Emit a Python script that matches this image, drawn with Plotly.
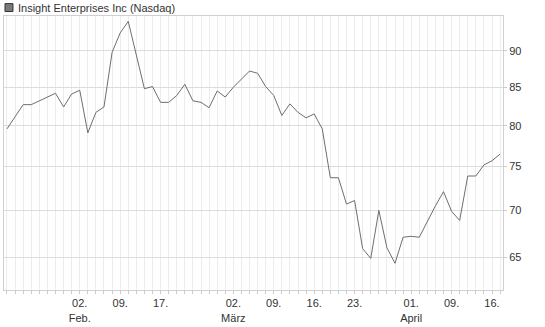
import plotly.graph_objects as go

# Trading days (Jan 20 - Apr 17, 2026)
dates = [
    "2026-01-20", "2026-01-21", "2026-01-22", "2026-01-23",
    "2026-01-26", "2026-01-27", "2026-01-28", "2026-01-29", "2026-01-30",
    "2026-02-02", "2026-02-03", "2026-02-04", "2026-02-05", "2026-02-06",
    "2026-02-09", "2026-02-10", "2026-02-11", "2026-02-12", "2026-02-13",
    "2026-02-17", "2026-02-18", "2026-02-19", "2026-02-20",
    "2026-02-23", "2026-02-24", "2026-02-25", "2026-02-26", "2026-02-27",
    "2026-03-02", "2026-03-03", "2026-03-04", "2026-03-05", "2026-03-06",
    "2026-03-09", "2026-03-10", "2026-03-11", "2026-03-12", "2026-03-13",
    "2026-03-16", "2026-03-17", "2026-03-18", "2026-03-19", "2026-03-20",
    "2026-03-23", "2026-03-24", "2026-03-25", "2026-03-26", "2026-03-27",
    "2026-03-30", "2026-03-31", "2026-04-01", "2026-04-02",
    "2026-04-06", "2026-04-07", "2026-04-08", "2026-04-09", "2026-04-10",
    "2026-04-13", "2026-04-14", "2026-04-15", "2026-04-16", "2026-04-17",
]

prices = [
    79.6, 81.1, 82.7, 82.7, 83.2, 83.7, 84.2, 82.4, 84.1, 84.6,
    79.1, 81.7, 82.4, 89.8, 92.6, 94.3, 89.5, 84.8, 85.1, 83.0,
    83.0, 83.9, 85.4, 83.2, 83.0, 82.3, 84.5, 83.7, 85.0, 86.1,
    87.2, 86.9, 85.1, 83.9, 81.3, 82.8, 81.7, 81.0, 81.5, 79.6,
    73.7, 73.7, 70.7, 71.1, 65.9, 64.9, 70.0, 66.0, 64.4, 67.1,
    67.2, 67.1, 68.8, 70.5, 72.1, 69.9, 68.9, 73.9, 73.9, 75.2,
    75.7, 76.5,
]

tick_dates = ["2026-02-02", "2026-02-09", "2026-02-17", "2026-03-02", "2026-03-09",
              "2026-03-16", "2026-03-23", "2026-04-01", "2026-04-09", "2026-04-16"]
tick_labels = ["02.<br>Feb.", "09.", "17.", "02.<br>März", "09.",
               "16.", "23.", "01.<br>April", "09.", "16."]

y_ticks = [65, 70, 75, 80, 85, 90]

series_name = "Insight Enterprises Inc (Nasdaq)"

x = list(range(len(dates)))
tickvals = [dates.index(d) for d in tick_dates]

fig = go.Figure()
fig.add_trace(go.Scatter(
    x=x, y=prices, mode="lines",
    line=dict(color="#6e6e6e", width=1),
    name=series_name, showlegend=False, hoverinfo="skip",
))

font = dict(family="Liberation Sans, Arial, sans-serif", size=11, color="#333333")

fig.update_layout(
    width=545, height=327,
    margin=dict(l=3, r=42, t=16, b=34),
    paper_bgcolor="white", plot_bgcolor="white",
    font=font,
    xaxis=dict(
        range=[-0.37, 61.36],
        tickmode="array", tickvals=tickvals, ticktext=tick_labels,
        showgrid=True, gridcolor="#ececec", gridwidth=1,
        ticks="outside", ticklen=3, tickcolor="#cccccc",
        minor=dict(dtick=1, tick0=0, showgrid=True, gridcolor="#ececec",
                   ticks="outside", ticklen=3, tickcolor="#cccccc"),
        showline=True, linecolor="#d0d0d0", linewidth=1, mirror=True,
        zeroline=False, tickfont=font,
    ),
    yaxis=dict(
        type="log",
        range=[1.7906, 1.9782],
        side="right",
        tickmode="array", tickvals=y_ticks, ticktext=[str(v) for v in y_ticks],
        showgrid=True, gridcolor="#dcdcdc", gridwidth=1,
        ticks="outside", ticklen=3, tickcolor="#cccccc",
        showline=True, linecolor="#d0d0d0", linewidth=1, mirror=True,
        zeroline=False, tickfont=font,
    ),
    shapes=[dict(type="rect", xref="paper", yref="paper",
                 x0=0, x1=0, y0=0, y1=0, line=dict(width=0))],
)

# legend-like header: square + text
fig.add_shape(type="rect", xref="paper", yref="paper",
              x0=(4 - 3) / 500, x1=(12 - 3) / 500,
              y0=1 + (293 - 16.5 - 0) / 276.5 * 0 + 4.5 / 276.5,
              y1=1 + 12.5 / 276.5,
              fillcolor="#7a7a7a", line=dict(color="#333333", width=1))
fig.add_annotation(xref="paper", yref="paper",
                   x=(15 - 3) / 500, y=1 + 8.5 / 276.5,
                   xanchor="left", yanchor="middle",
                   text=series_name, showarrow=False, font=font)

fig.write_html("out.html")
